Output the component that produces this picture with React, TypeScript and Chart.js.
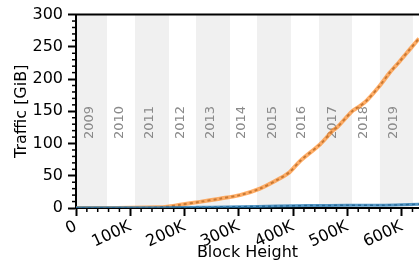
import React, { useEffect, useRef } from 'react';
import { Chart, registerables } from 'chart.js';

Chart.register(...registerables);

// Orange series (total traffic, GiB) vs block height
const orangeHeights = [0, 50000, 100000, 150000, 168000, 192000, 228000, 265000, 302000, 339000, 376000, 394000, 413000, 450000, 473000, 481000, 510000, 523000, 536000, 560000, 578000, 597000, 615000, 632000];
const orangeTraffic = [0, 0.1, 0.3, 1, 2, 5, 9.5, 14.5, 20, 30, 46, 56, 73, 99, 120, 125, 151, 158, 167, 190, 210, 228, 246, 263];

// Blue series (GiB) vs block height
const blueHeights = [0, 100000, 200000, 250000, 300000, 370000, 430000, 500000, 560000, 600000, 632000];
const blueTraffic = [0.3, 0.4, 0.8, 1.3, 2, 3, 3.8, 4.2, 4.3, 5, 6];

// X tick values (block height)
const xTickValues = [0, 100000, 200000, 300000, 400000, 500000, 600000];

// Year bands (grey shaded) and year labels
const greyBandStarts = [0, 108700, 221000, 333500, 447700, 560000];
const greyBandEnds = [57100, 171300, 283700, 396000, 508500, 620800];
const yearLabels = ['2009', '2010', '2011', '2012', '2013', '2014', '2015', '2016', '2017', '2018', '2019'];
const yearLabelPos = [25800, 81000, 136000, 193000, 248700, 305000, 363000, 416000, 473500, 530600, 585000];
const yearLabelY = 107;

const xMax = 632000;
const yMax = 300;

const FONT = "'DejaVu Sans', sans-serif";

const decorPlugin = {
  id: 'decor',
  beforeDraw(chart: any) {
    const { ctx, chartArea, scales } = chart;
    const x = scales.x;
    const y = scales.y;
    ctx.save();
    ctx.fillStyle = '#f0f0f0';
    for (let i = 0; i < greyBandStarts.length; i++) {
      const xa = x.getPixelForValue(greyBandStarts[i]);
      const xb = Math.min(x.getPixelForValue(greyBandEnds[i]), chartArea.right);
      ctx.fillRect(xa, chartArea.top, xb - xa, chartArea.bottom - chartArea.top);
    }
    ctx.fillStyle = '#8a8a8a';
    ctx.font = `13px ${FONT}`;
    ctx.textAlign = 'left';
    ctx.textBaseline = 'middle';
    yearLabels.forEach((t, i) => {
      const px = x.getPixelForValue(yearLabelPos[i]);
      const py = y.getPixelForValue(yearLabelY);
      ctx.save();
      ctx.translate(px, py);
      ctx.rotate(-Math.PI / 2);
      ctx.fillText(t, 0, 0);
      ctx.restore();
    });
    ctx.restore();
  },
  afterDraw(chart: any) {
    const { ctx, chartArea, scales } = chart;
    const x = scales.x;
    const y = scales.y;
    ctx.save();
    ctx.strokeStyle = '#000';
    ctx.lineWidth = 1.5;
    for (let v = 0; v <= yMax; v += 10) {
      if (v % 50 === 0) continue;
      const py = y.getPixelForValue(v);
      ctx.beginPath();
      ctx.moveTo(chartArea.left - 4, py);
      ctx.lineTo(chartArea.left, py);
      ctx.stroke();
    }
    for (let v = 0; v <= xMax; v += 20000) {
      if (v % 100000 === 0) continue;
      const px = x.getPixelForValue(v);
      ctx.beginPath();
      ctx.moveTo(px, chartArea.bottom);
      ctx.lineTo(px, chartArea.bottom + 4);
      ctx.stroke();
    }
    ctx.lineWidth = 2;
    ctx.beginPath();
    ctx.moveTo(chartArea.left - 1, chartArea.top);
    ctx.lineTo(chartArea.right, chartArea.top);
    ctx.stroke();
    ctx.restore();
  },
};

function toPoints(xs: number[], ys: number[]) {
  return xs.map((v, i) => ({ x: v, y: ys[i] }));
}

export default function App() {
  const ref = useRef<HTMLCanvasElement | null>(null);

  useEffect(() => {
    if (!ref.current) return;
    const orange = toPoints(orangeHeights, orangeTraffic);
    const blue = toPoints(blueHeights, blueTraffic);
    const chart = new Chart(ref.current, {
      type: 'scatter',
      data: {
        datasets: [
          { data: blue, showLine: true, borderColor: 'rgba(31,119,180,0.75)', borderWidth: 3, pointRadius: 0, tension: 0.3 },
          { data: blue, showLine: true, borderColor: '#4a4a4a', borderWidth: 1.5, borderDash: [3, 3], pointRadius: 0, tension: 0.3 },
          { data: orange, showLine: true, borderColor: 'rgba(255,140,40,0.7)', borderWidth: 4, pointRadius: 0, tension: 0.3 },
          { data: orange, showLine: true, borderColor: '#4a4a4a', borderWidth: 2, borderDash: [3, 3], pointRadius: 0, tension: 0.3 },
        ],
      },
      options: {
        animation: false,
        responsive: false,
        devicePixelRatio: 1,
        layout: { padding: { top: 14, right: 0, left: 0, bottom: 0 } },
        plugins: { legend: { display: false }, tooltip: { enabled: false } },
        scales: {
          x: {
            type: 'linear',
            min: 0,
            max: xMax,
            border: { display: true, color: '#000', width: 2 },
            grid: { display: true, drawOnChartArea: false, drawTicks: true, tickLength: 8, tickWidth: 2, tickColor: '#000' },
            afterBuildTicks: (s: any) => {
              s.ticks = xTickValues.map((v) => ({ value: v }));
            },
            ticks: {
              minRotation: 25,
              maxRotation: 25,
              autoSkip: false,
              padding: 1,
              color: '#000',
              font: { family: FONT, size: 16 },
              callback: (v: any) => (Number(v) === 0 ? '0' : `${Math.round(Number(v) / 1000)}K`),
            },
            title: { display: true, text: 'Block Height', color: '#000', font: { family: FONT, size: 16 }, padding: { top: 0, bottom: 1 } },
            afterFit: (s: any) => {
              s.height = 55;
              s.paddingLeft = 0;
              s.paddingRight = 0;
            },
          },
          y: {
            type: 'linear',
            min: 0,
            max: yMax,
            border: { display: true, color: '#000', width: 2 },
            grid: { display: true, drawOnChartArea: false, drawTicks: true, tickLength: 8, tickWidth: 2, tickColor: '#000' },
            ticks: {
              stepSize: 50,
              padding: 5,
              color: '#000',
              font: { family: FONT, size: 16 },
            },
            title: { display: true, text: 'Traffic [GiB]', color: '#000', font: { family: FONT, size: 16 }, padding: { top: 12, bottom: 0 } },
            afterFit: (s: any) => {
              s.width = 76;
            },
          },
        },
      },
      plugins: [decorPlugin],
    } as any);
    return () => chart.destroy();
  }, []);

  return (
    <canvas
      ref={ref}
      width={419}
      height={263}
      style={{ position: 'absolute', left: 0, top: 0, width: 419, height: 263, display: 'block' }}
    />
  );
}
